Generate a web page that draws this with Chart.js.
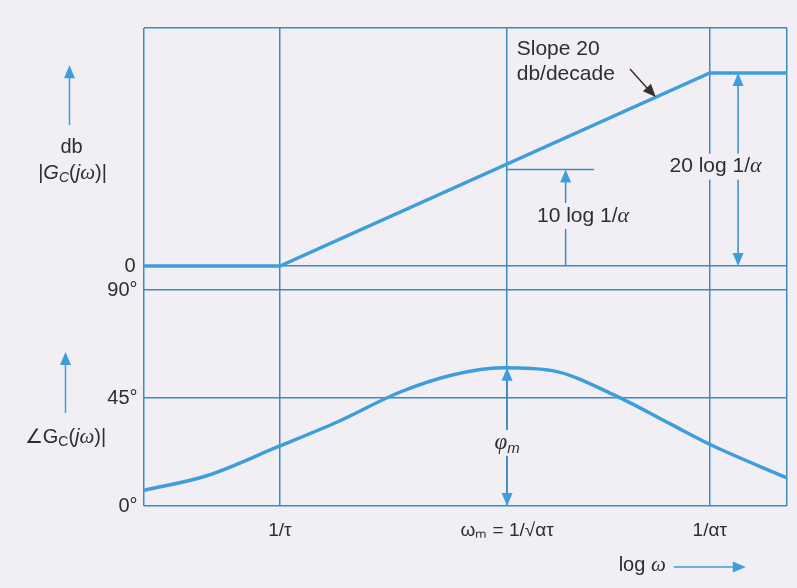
<!DOCTYPE html>
<html>
<head>
<meta charset="utf-8">
<script src="https://cdn.jsdelivr.net/npm/chart.js@4/dist/chart.umd.min.js"></script>
<style>
  html, body { margin: 0; padding: 0; background: #f2eff4; }
  #wrap { width: 797px; height: 588px; }
</style>
</head>
<body>
<div id="wrap"><canvas id="bode" width="797" height="588"></canvas></div>
<script>
// log w axis in arbitrary units (0 = left edge of the box, 100 = right edge)
const xTicks = [0, 21.2, 56.5, 88, 100];
const xTickLabels = ['', '1/τ', 'ωₘ = 1/√ατ', '1/ατ', ''];

// magnitude asymptote (db)
const magX = [0, 21.2, 88, 100];
const magDb = [0, 0, 20, 20];
const magTicks = [0, 24.66];
const magTickLabels = ['0', ''];

// phase curve (degrees)
const phaseX = [0, 9.7, 20.9, 30.1, 39.9, 48.0, 55.8, 63.5, 73.5, 82.0, 88.3, 100];
const phaseDeg = [6.5, 12.5, 24.7, 35, 47.5, 54.6, 57.6, 56.4, 45.8, 34, 25.3, 11.7];
const phaseTicks = [0, 45, 90];
const phaseTickLabels = ['0°', '45°', '90°'];

const bg = '#f2eff4';
const gridBlue = '#3a8cbf';
const curveBlue = '#3d9edb';
const ink = '#2e2e2e';
const sans = '"Liberation Sans", Arial, sans-serif';
const serif = '"Liberation Serif", "Times New Roman", serif';

function pts(xs, ys) {
  return xs.map((x, i) => ({ x: x, y: ys[i] }));
}

function setTicks(values) {
  return function (scale) {
    scale.ticks = values.map(v => ({ value: v }));
  };
}

function head(ctx, x, y, angle, color) {
  ctx.save();
  ctx.translate(x, y);
  ctx.rotate(angle);
  ctx.beginPath();
  ctx.moveTo(0, 0);
  ctx.lineTo(-13, -5.5);
  ctx.lineTo(-13, 5.5);
  ctx.closePath();
  ctx.fillStyle = color;
  ctx.fill();
  ctx.restore();
}

function line(ctx, x1, y1, x2, y2, color, w) {
  ctx.beginPath();
  ctx.moveTo(x1, y1);
  ctx.lineTo(x2, y2);
  ctx.strokeStyle = color;
  ctx.lineWidth = w;
  ctx.stroke();
}

// text made of pieces with their own fonts, centred on cx
function rich(ctx, parts, cx, cy, boxed) {
  ctx.save();
  ctx.textBaseline = 'middle';
  let w = 0;
  parts.forEach(p => { ctx.font = p.f; w += ctx.measureText(p.t).width; });
  let x = cx - w / 2;
  if (boxed) {
    ctx.fillStyle = bg;
    ctx.fillRect(x - 3, cy - 13, w + 6, 26);
  }
  ctx.fillStyle = ink;
  parts.forEach(p => {
    ctx.font = p.f;
    ctx.fillText(p.t, x, cy + (p.dy || 0));
    x += ctx.measureText(p.t).width;
  });
  ctx.restore();
}

const annotations = {
  id: 'annotations',
  afterDatasetsDraw(chart) {
    const { ctx, chartArea: a } = chart;
    const x = chart.scales.x, m = chart.scales.yMag, p = chart.scales.yPh;
    const up = -Math.PI / 2, down = Math.PI / 2;
    const f21 = '21px ' + sans, it21 = 'italic 22px ' + serif;
    const f20 = '20px ' + sans, it20 = 'italic 20px ' + sans, gr20 = 'italic 21px ' + serif;

    // 10 log 1/alpha
    line(ctx, x.getPixelForValue(56.5), m.getPixelForValue(10), x.getPixelForValue(70), m.getPixelForValue(10), gridBlue, 1.5);
    line(ctx, x.getPixelForValue(65.6), m.getPixelForValue(0), x.getPixelForValue(65.6), m.getPixelForValue(10) + 10, gridBlue, 1.5);
    head(ctx, x.getPixelForValue(65.6), m.getPixelForValue(10), up, curveBlue);
    rich(ctx, [{ t: '10 log 1/', f: f21 }, { t: 'α', f: it21 }], x.getPixelForValue(68.3), m.getPixelForValue(5.2), true);

    // 20 log 1/alpha
    const x20 = x.getPixelForValue(92.4);
    line(ctx, x20, m.getPixelForValue(20) + 10, x20, m.getPixelForValue(0) - 10, gridBlue, 1.5);
    head(ctx, x20, m.getPixelForValue(20), up, curveBlue);
    head(ctx, x20, m.getPixelForValue(0), down, curveBlue);
    rich(ctx, [{ t: '20 log 1/', f: f21 }, { t: 'α', f: it21 }], x.getPixelForValue(88.9), m.getPixelForValue(10.3), true);

    // slope note
    ctx.save();
    ctx.font = f21;
    ctx.fillStyle = ink;
    ctx.textBaseline = 'middle';
    ctx.fillText('Slope 20', x.getPixelForValue(58), m.getPixelForValue(22.5));
    ctx.fillText('db/decade', x.getPixelForValue(58), m.getPixelForValue(19.9));
    ctx.restore();
    const sx1 = x.getPixelForValue(75.6), sy1 = m.getPixelForValue(20.4);
    const sx2 = x.getPixelForValue(79.6), sy2 = m.getPixelForValue(17.5);
    line(ctx, sx1, sy1, sx2 - 6, sy2 - 6, '#3b2e2c', 1.5);
    head(ctx, sx2, sy2, Math.atan2(sy2 - sy1, sx2 - sx1), '#3b2e2c');

    // phi_m
    const xm = x.getPixelForValue(56.5);
    line(ctx, xm, p.getPixelForValue(57.6) + 10, xm, p.getPixelForValue(0) - 10, gridBlue, 1.5);
    head(ctx, xm, p.getPixelForValue(57.6), up, curveBlue);
    head(ctx, xm, p.getPixelForValue(0), down, curveBlue);
    rich(ctx, [{ t: 'φ', f: 'italic 23px ' + serif }, { t: 'm', f: 'italic 15px ' + sans, dy: 6 }], xm, p.getPixelForValue(26.3), true);

    // left side axis names
    const lx = a.left - 74;
    line(ctx, lx, m.getPixelForValue(14.6), lx, m.getPixelForValue(20.8) + 10, curveBlue, 1.5);
    head(ctx, lx, m.getPixelForValue(20.8), up, curveBlue);
    rich(ctx, [{ t: 'db', f: f20 }], lx + 2, m.getPixelForValue(12.3));
    rich(ctx, [{ t: '|', f: f20 }, { t: 'G', f: it20 }, { t: 'C', f: 'italic 14px ' + sans, dy: 5 },
      { t: '(', f: f20 }, { t: 'j', f: it20 }, { t: 'ω', f: gr20 }, { t: ')|', f: f20 }],
      lx + 3, m.getPixelForValue(9.6));

    const px = a.left - 78;
    line(ctx, px, p.getPixelForValue(38.8), px, p.getPixelForValue(64.2) + 10, curveBlue, 1.5);
    head(ctx, px, p.getPixelForValue(64.2), up, curveBlue);
    rich(ctx, [{ t: '∠G', f: f20 }, { t: 'C', f: '14px ' + sans, dy: 5 },
      { t: '(', f: f20 }, { t: 'j', f: it20 }, { t: 'ω', f: gr20 }, { t: ')|', f: f20 }],
      px, p.getPixelForValue(28.5));

    // log w arrow under the axis
    const ly = a.bottom + 59;
    rich(ctx, [{ t: 'log ', f: f20 }, { t: 'ω', f: gr20 }], x.getPixelForValue(77.5), ly);
    line(ctx, x.getPixelForValue(82.4), ly + 2, x.getPixelForValue(93.6) - 8, ly + 2, curveBlue, 1.5);
    head(ctx, x.getPixelForValue(93.6), ly + 2, 0, curveBlue);
  }
};

new Chart(document.getElementById('bode'), {
  type: 'line',
  data: {
    datasets: [
      { label: 'magnitude', data: pts(magX, magDb), yAxisID: 'yMag', borderColor: curveBlue, borderWidth: 3.5, pointRadius: 0, tension: 0 },
      { label: 'phase', data: pts(phaseX, phaseDeg), yAxisID: 'yPh', borderColor: curveBlue, borderWidth: 3.5, pointRadius: 0, cubicInterpolationMode: 'monotone' }
    ]
  },
  options: {
    responsive: false,
    animation: false,
    layout: { padding: { top: 28, right: 10, left: 0, bottom: 0 } },
    plugins: { legend: { display: false }, tooltip: { enabled: false } },
    scales: {
      x: {
        type: 'linear', min: 0, max: 100,
        afterBuildTicks: setTicks(xTicks),
        afterFit: s => { s.height = 82; s.paddingLeft = 0; s.paddingRight = 0; },
        ticks: { callback: v => xTickLabels[xTicks.indexOf(v)], autoSkip: false, maxRotation: 0, padding: 13, color: ink, font: { family: sans, size: 19 } },
        grid: { color: gridBlue, lineWidth: 1.5, drawTicks: false },
        border: { display: false }
      },
      // phase listed first: the later stacked axis is placed on top
      yPh: {
        type: 'linear', position: 'left', stack: 'bode', stackWeight: 228,
        min: 0, max: 95,
        afterBuildTicks: setTicks(phaseTicks),
        afterFit: s => { s.width = 143.5; },
        ticks: { callback: v => phaseTickLabels[phaseTicks.indexOf(v)], padding: 6, color: ink, font: { family: sans, size: 20 } },
        grid: { color: gridBlue, lineWidth: 1.5, drawTicks: false },
        border: { display: false }
      },
      yMag: {
        type: 'linear', position: 'left', stack: 'bode', stackWeight: 250,
        min: -1.24, max: 24.66,
        afterBuildTicks: setTicks(magTicks),
        afterFit: s => { s.width = 143.5; },
        ticks: { callback: v => magTickLabels[magTicks.indexOf(v)], padding: 8, color: ink, font: { family: sans, size: 20 } },
        grid: { color: gridBlue, lineWidth: 1.5, drawTicks: false },
        border: { display: false }
      }
    }
  },
  plugins: [annotations]
});
</script>
</body>
</html>
